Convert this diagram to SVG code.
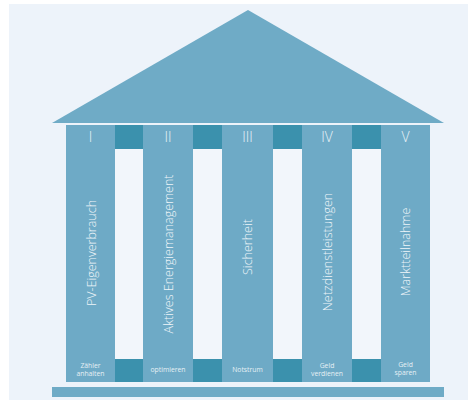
<svg xmlns="http://www.w3.org/2000/svg" width="468" height="403" viewBox="0 0 468 403">
<style>
.col{fill:#6eaac6}
.dark{fill:#3b91ad}
.gap{fill:#f2f6fb}
.num{font-family:"Open Sans","Liberation Sans",sans-serif;font-weight:300;font-size:14px;fill:#e8f2f7;text-anchor:middle}
.lbl{font-family:"Open Sans","Liberation Sans",sans-serif;font-weight:300;font-size:12.5px;fill:#eef5f9;text-anchor:middle;dominant-baseline:central}
.sm{font-family:"Open Sans","Liberation Sans",sans-serif;font-size:6.8px;fill:#e6f0f5;text-anchor:middle}
</style>
<rect x="0" y="0" width="468" height="403" fill="#ffffff"/>
<rect x="9" y="4" width="459" height="396" fill="#edf3fa"/>
<g id="roof"><polygon points="248,10 52,123 444,123" fill="#6fabc6"/></g>
<g id="frame">
<rect x="66" y="125" width="364" height="257" class="col"/>
<rect x="115" y="125" width="28" height="24" class="dark"/>
<rect x="193" y="125" width="29" height="24" class="dark"/>
<rect x="273" y="125" width="29" height="24" class="dark"/>
<rect x="352" y="125" width="29" height="24" class="dark"/>
<rect x="115" y="149" width="28" height="210" class="gap"/>
<rect x="193" y="149" width="29" height="210" class="gap"/>
<rect x="273" y="149" width="29" height="210" class="gap"/>
<rect x="352" y="149" width="29" height="210" class="gap"/>
<rect x="115" y="359" width="28" height="23" class="dark"/>
<rect x="193" y="359" width="29" height="23" class="dark"/>
<rect x="273" y="359" width="29" height="23" class="dark"/>
<rect x="352" y="359" width="29" height="23" class="dark"/>
</g>
<g id="base"><rect x="52" y="387" width="392" height="10" fill="#6fabc6"/></g>
<g id="pillar1">
<text x="90.5" y="142" class="num">I</text>
<text class="lbl" transform="translate(91,253) rotate(-90)">PV-Eigenverbrauch</text>
<text x="90.5" y="368" class="sm">Zähler</text>
<text x="90.5" y="376" class="sm">anhalten</text>
</g>
<g id="pillar2">
<text x="168" y="142" class="num">II</text>
<text class="lbl" transform="translate(168,254) rotate(-90)">Aktives Energiemanagement</text>
<text x="168" y="372" class="sm">optimieren</text>
</g>
<g id="pillar3">
<text x="247.5" y="142" class="num">III</text>
<text class="lbl" transform="translate(247.5,247) rotate(-90)">Sicherheit</text>
<text x="247.5" y="372" class="sm">Notstrum</text>
</g>
<g id="pillar4">
<text x="327" y="142" class="num">IV</text>
<text class="lbl" transform="translate(327,252) rotate(-90)">Netzdienstleistungen</text>
<text x="327" y="368" class="sm">Geld</text>
<text x="327" y="376" class="sm">verdienen</text>
</g>
<g id="pillar5">
<text x="405.5" y="142" class="num">V</text>
<text class="lbl" transform="translate(405.5,252) rotate(-90)">Marktteilnahme</text>
<text x="405.5" y="367" class="sm">Geld</text>
<text x="405.5" y="375" class="sm">sparen</text>
</g>
<g id="connectors"/>
</svg>
